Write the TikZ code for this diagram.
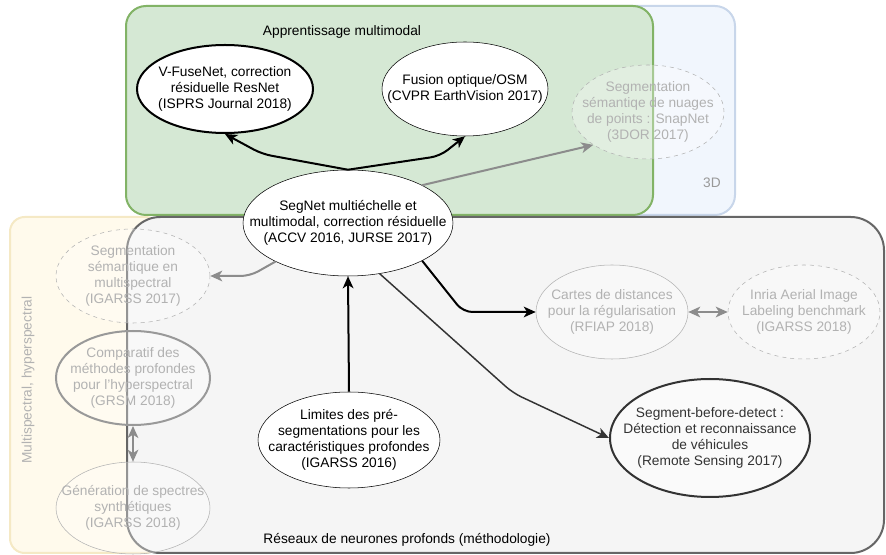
\documentclass[tikz,border=0pt]{standalone}
\usepackage{fontspec}
\setmainfont{Liberation Sans}
\usetikzlibrary{shapes.geometric,arrows.meta}
\definecolor{grnfill}{RGB}{213,232,212}
\definecolor{grnline}{RGB}{130,179,102}
\definecolor{blufill}{RGB}{241,246,253}
\definecolor{bluline}{RGB}{200,214,234}
\definecolor{yelfill}{RGB}{255,250,236}
\definecolor{yelline}{RGB}{245,233,197}
\definecolor{gryfill}{RGB}{245,245,245}
\definecolor{gryline}{RGB}{102,102,102}

\begin{document}
\begin{tikzpicture}[x=0.75pt,y=0.75pt,yscale=-1,xscale=1,
	every node/.style={font=\fontsize{10.3}{12}\selectfont},
	every label/.style={align=center, inner sep=0pt},
	paper/.style={ellipse, draw, fill=white, inner sep=0pt},
	faded/.style={paper, draw=black!30, fill opacity=0.3},
	fadedtext/.style={text=black!30},
	link/.style={line width=1.5pt, rounded corners=7pt, -{Stealth[length=9pt,width=8pt,inset=2.5pt]}},
	fadedlink/.style={link, draw=black!45},
	bothways/.style={{Stealth[length=9pt,width=8pt,inset=2.5pt]}-{Stealth[length=9pt,width=8pt,inset=2.5pt]}}
	]
	\useasboundingbox (0,0) rectangle (886,555);
	
	%Shape: Rectangle [id:multispectral]
	\draw [draw=yelline, fill=yelfill, line width=1.5pt, rounded corners=11pt] (10,217) rectangle (160,553);
	%Shape: Rectangle [id:3d]
	\draw [draw=bluline, fill=blufill, line width=1.5pt, rounded corners=15pt] (430,6) rectangle (735,215);
	%Shape: Rectangle [id:multimodal]
	\draw [draw=grnline, fill=grnfill, line width=1.5pt, rounded corners=15pt] (126,6) rectangle (653,215);
	%Shape: Rectangle [id:methodologie]
	\draw [draw=gryline, fill=gryfill, line width=1.5pt, rounded corners=25pt] (127,217) rectangle (884,553);
	
	% Text Node
	\node (mmtitle) at (342,32) {Apprentissage multimodal};
	% Text Node
	\node [text=black!40] (tdlabel) at (712,183) {3D};
	% Text Node
	\node [text=black!30, rotate=90] (msplabel) at (28,380) {Multispectral, hyperspectral};
	% Text Node
	\node (dnnlabel) at (407,540) {Réseaux de neurones profonds (méthodologie)};
	
	%Shape: Ellipse [id:segnet]
	\node [paper, minimum width=157.5pt, minimum height=79.5pt, label={center:SegNet multiéchelle et\\multimodal, correction résiduelle\\(ACCV 2016, JURSE 2017)}] (segnet) at (348,223) {};
	%Shape: Ellipse [id:vfusenet]
	\node [paper, line width=1.5pt, minimum width=132pt, minimum height=66pt, label={center:V-FuseNet, correction\\résiduelle ResNet\\(ISPRS Journal 2018)}] (vfuse) at (225,89) {};
	%Shape: Ellipse [id:osm]
	\node [paper, minimum width=124.5pt, minimum height=70.5pt, label={center:Fusion optique/OSM\\(CVPR EarthVision 2017)}] (fusion) at (465,89) {};
	%Shape: Ellipse [id:snapnet]
	\node [faded, dashed, minimum width=114pt, minimum height=70.5pt, label={[fadedtext]center:Segmentation\\sémantiqe de nuages\\de points : SnapNet\\(3DOR 2017)}] (snapnet) at (648,112) {};
	%Shape: Ellipse [id:msp]
	\node [faded, dashed, minimum width=115.5pt, minimum height=70.5pt, label={[fadedtext]center:Segmentation\\sémantique en\\multispectral\\(IGARSS 2017)}] (msp) at (133,276) {};
	%Shape: Ellipse [id:hyper]
	\node [faded, draw=black!40, line width=1.5pt, minimum width=115.5pt, minimum height=70.5pt, label={[fadedtext]center:Comparatif des\\méthodes profondes\\pour l'hyperspectral\\(GRSM 2018)}] (hyper) at (133,378) {};
	%Shape: Ellipse [id:spectres]
	\node [faded, minimum width=115.5pt, minimum height=69pt, label={[fadedtext]center:Génération de spectres\\synthétiques\\(IGARSS 2018)}] (spectres) at (133,508) {};
	%Shape: Ellipse [id:cartes]
	\node [faded, minimum width=114pt, minimum height=70.5pt, label={[fadedtext]center:Cartes de distances\\pour la régularisation\\(RFIAP 2018)}] (cartes) at (612,312) {};
	%Shape: Ellipse [id:inria]
	\node [faded, dashed, minimum width=114pt, minimum height=70.5pt, label={[fadedtext]center:Inria Aerial Image\\Labeling benchmark\\(IGARSS 2018)}] (inria) at (804,312) {};
	%Shape: Ellipse [id:vehicules]
	\node [paper, draw=black!80, fill=black!2, line width=1.5pt, minimum width=150pt, minimum height=88.5pt, label={[text=black!80]center:Segment-before-detect :\\Détection et reconnaissance\\de véhicules\\(Remote Sensing 2017)}] (vehicules) at (710,438) {};
	%Shape: Ellipse [id:limites]
	\node [paper, minimum width=136.5pt, minimum height=72pt, label={center:Limites des pré-\\segmentations pour les\\caractéristiques profondes\\(IGARSS 2016)}] (limites) at (349,440) {};
	
	%Straight Lines [id:multimodal]
	\draw [link] (segnet.north) -- (262,154) -- (vfuse.south);
	\draw [link] (segnet.north) -- (440,156) -- (fusion.south);
	\draw [link] (segnet.333) -- (463,312) -- (cartes.west);
	\draw [link] (limites.north) -- (segnet.south);
	\draw [link, line width=1.1pt, draw=black!80] (segnet.302) -- (513,393) -- (vehicules.west);
	%Straight Lines [id:faded]
	\draw [fadedlink] (segnet.27) -- (snapnet.211);
	\draw [fadedlink] (segnet.208) -- (250,276) -- (msp.east);
	\draw [fadedlink, bothways] (cartes.east) -- (inria.west);
	\draw [fadedlink, bothways] (hyper.south) -- (spectres.north);
	
\end{tikzpicture}
\end{document}
